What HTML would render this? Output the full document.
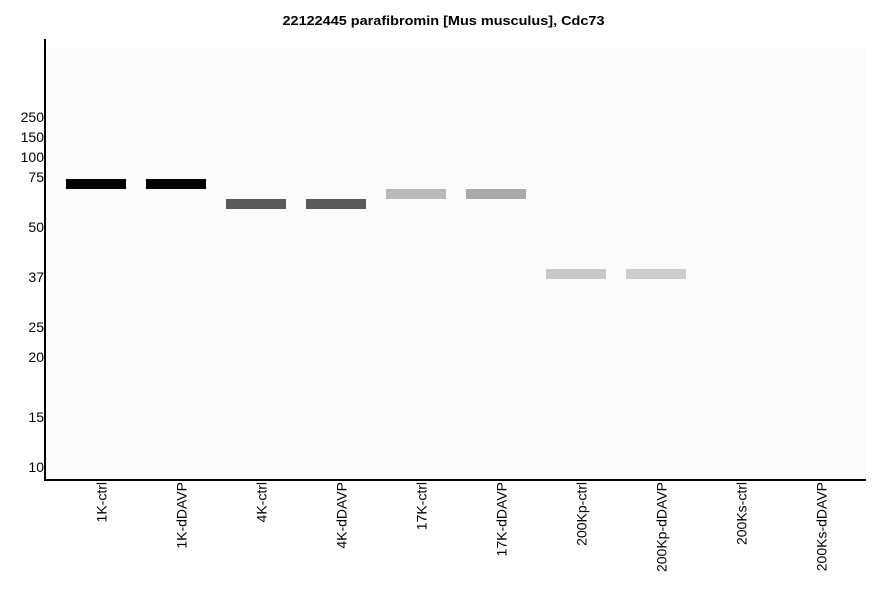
<!DOCTYPE html>
<html>
<head>
<meta charset="utf-8">
<style>
html,body{margin:0;padding:0;background:#fff;}
svg{display:block;}
text{font-family:"Liberation Sans",Arial,sans-serif;}
</style>
</head>
<body>
<svg width="886" height="595" viewBox="0 0 886 595" xmlns="http://www.w3.org/2000/svg">
<rect x="0" y="0" width="886" height="595" fill="#ffffff"/>
<text x="443.5" y="25" font-size="13" font-weight="bold" text-anchor="middle" fill="#000" textLength="322" lengthAdjust="spacingAndGlyphs">22122445 parafibromin [Mus musculus], Cdc73</text>
<rect x="46" y="49" width="820" height="430" fill="#fbfbfb"/>
<rect x="44" y="39" width="2" height="442" fill="#000"/>
<rect x="44" y="479" width="822" height="2" fill="#000"/>
<g font-size="14" fill="#000" text-anchor="end">
<text x="44" y="122">250</text>
<text x="44" y="142">150</text>
<text x="44" y="162">100</text>
<text x="44" y="182">75</text>
<text x="44" y="232">50</text>
<text x="44" y="282">37</text>
<text x="44" y="332">25</text>
<text x="44" y="362">20</text>
<text x="44" y="422">15</text>
<text x="44" y="472">10</text>
</g>
<rect x="66" y="179" width="60" height="10" fill="#000000"/>
<rect x="146" y="179" width="60" height="10" fill="#000000"/>
<rect x="226" y="199" width="60" height="10" fill="#5a5a5a"/>
<rect x="306" y="199" width="60" height="10" fill="#5a5a5a"/>
<rect x="386" y="189" width="60" height="10" fill="#bababa"/>
<rect x="466" y="189" width="60" height="10" fill="#aaaaaa"/>
<rect x="546" y="269" width="60" height="10" fill="#c8c8c8"/>
<rect x="626" y="269" width="60" height="10" fill="#cdcdcd"/>
<g font-size="14" fill="#000" text-anchor="end">
<text transform="translate(106.5,482) rotate(-90)">1K-ctrl</text>
<text transform="translate(186.5,482) rotate(-90)">1K-dDAVP</text>
<text transform="translate(266.5,482) rotate(-90)">4K-ctrl</text>
<text transform="translate(346.5,482) rotate(-90)">4K-dDAVP</text>
<text transform="translate(426.5,482) rotate(-90)">17K-ctrl</text>
<text transform="translate(506.5,482) rotate(-90)">17K-dDAVP</text>
<text transform="translate(586.5,482) rotate(-90)">200Kp-ctrl</text>
<text transform="translate(666.5,482) rotate(-90)">200Kp-dDAVP</text>
<text transform="translate(746.5,482) rotate(-90)">200Ks-ctrl</text>
<text transform="translate(826.5,482) rotate(-90)">200Ks-dDAVP</text>
</g>
</svg>
</body>
</html>
